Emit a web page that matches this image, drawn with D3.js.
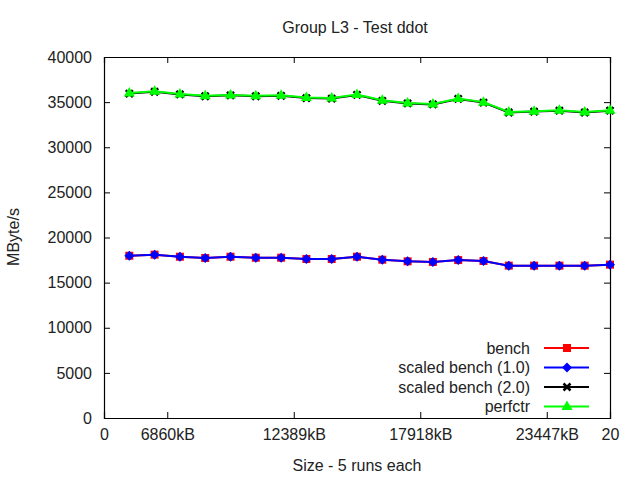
<!DOCTYPE html>
<html>
<head>
<meta charset="utf-8">
<script src="https://cdn.jsdelivr.net/npm/d3@7"></script>
<style>
   body { margin: 0; background: #fff; }
   text { font-family: "Liberation Sans", Arial, sans-serif; }
</style>
</head>
<body>
<svg id="chart"></svg>
<script>
   // x positions are run numbers 1..20
   const runs = d3.range(1, 21);
   const bench = [17980, 18100, 17870, 17730, 17870, 17760, 17760, 17620, 17620, 17870,
                  17540, 17360, 17290, 17500, 17400, 16880, 16880, 16880, 16880, 16990];
   const scaled1 = bench.slice(); // scaled bench (1.0) lies on bench
   const scaled2 = [35950, 36150, 35850, 35650, 35750, 35650, 35700, 35450, 35400, 35800,
                    35150, 34850, 34750, 35350, 34950, 33850, 33950, 34050, 33850, 34050];
   const perfctr = [36000, 36200, 35900, 35700, 35800, 35700, 35750, 35500, 35450, 35850,
                    35200, 34900, 34800, 35400, 35000, 33900, 34000, 34100, 33900, 34100];

   const xTickValues = [0, 2.5, 7.5, 12.5, 17.5, 20];
   const xTickLabels = ["0", "6860kB", "12389kB", "17918kB", "23447kB", "20"];
   const yTickValues = d3.range(0, 40001, 5000);

   const seriesNames = ["bench", "scaled bench (1.0)", "scaled bench (2.0)", "perfctr"];
   const seriesColors = ["#ff0000", "#0000ff", "#000000", "#00ff00"];
   const seriesShapes = ["square", "diamond", "cross", "triangle"];
   const seriesData = [bench, scaled1, scaled2, perfctr];

   const width = 640, height = 480;
   const margin = {left: 104, right: 30, top: 57, bottom: 62};
   const fontSize = 16;

   const svg = d3.select("#chart")
      .attr("width", width)
      .attr("height", height)

   const x = d3.scaleLinear().domain([0, 20]).range([margin.left, width - margin.right]);
   const y = d3.scaleLinear().domain([0, 40000]).range([height - margin.bottom, margin.top]);

   //axes, ticks point inward and are mirrored
   const tickLen = 6;
   const bottomAxis = svg.append("g")
      .attr("transform", `translate(0,${y(0)})`)
      .call(d3.axisBottom(x).tickValues(xTickValues)
         .tickFormat((d, i) => xTickLabels[i])
         .tickSize(-tickLen).tickPadding(11))
   const topAxis = svg.append("g")
      .attr("transform", `translate(0,${y(40000)})`)
      .call(d3.axisTop(x).tickValues(xTickValues).tickFormat("").tickSize(-tickLen))
   const leftAxis = svg.append("g")
      .attr("transform", `translate(${x(0)},0)`)
      .call(d3.axisLeft(y).tickValues(yTickValues).tickFormat(d3.format("d"))
         .tickSize(-tickLen).tickPadding(12))
   const rightAxis = svg.append("g")
      .attr("transform", `translate(${x(20)},0)`)
      .call(d3.axisRight(y).tickValues(yTickValues).tickFormat("").tickSize(-tickLen))

   svg.selectAll(".domain").attr("stroke", "#000").attr("stroke-width", 1.2)
   svg.selectAll(".tick line").attr("stroke", "#000")
   svg.selectAll(".tick text").attr("font-size", fontSize).attr("fill", "#222")
      .style("font-family", "'Liberation Sans', Arial, sans-serif")

   //titles
   svg.append("text")
      .attr("x", 355).attr("y", 33)
      .attr("text-anchor", "middle").attr("font-size", fontSize).attr("fill", "#222")
      .text("Group L3 - Test ddot")
   svg.append("text")
      .attr("x", 357).attr("y", 471)
      .attr("text-anchor", "middle").attr("font-size", fontSize).attr("fill", "#222")
      .text("Size - 5 runs each")
   svg.append("text")
      .attr("transform", "translate(19,237) rotate(-90)")
      .attr("text-anchor", "middle").attr("font-size", fontSize).attr("fill", "#222")
      .text("MByte/s")

   function drawMarker(g, shape, color, cx, cy){
      if(shape == "square"){
         g.append("rect").attr("x", cx - 4).attr("y", cy - 4)
            .attr("width", 8).attr("height", 8).attr("fill", color)
      }
      else if(shape == "diamond"){
         g.append("path").attr("d", `M${cx},${cy-5}L${cx+5},${cy}L${cx},${cy+5}L${cx-5},${cy}Z`)
            .attr("fill", color)
      }
      else if(shape == "cross"){
         g.append("path").attr("d", `M${cx-3.5},${cy-3.5}L${cx+3.5},${cy+3.5}M${cx-3.5},${cy+3.5}L${cx+3.5},${cy-3.5}`)
            .attr("stroke", color).attr("stroke-width", 2.5)
      }
      else if(shape == "triangle"){
         g.append("path").attr("d", `M${cx},${cy-6}L${cx+5.5},${cy+3.5}L${cx-5.5},${cy+3.5}Z`)
            .attr("fill", color)
      }
   }

   const line = d3.line()
      .x((d, i) => x(runs[i]))
      .y(d => y(d))

   const plot = svg.append("g")
   seriesData.forEach((data, s) => {
      const g = plot.append("g")
      g.append("path")
         .datum(data)
         .attr("d", line)
         .attr("fill", "none")
         .attr("stroke", seriesColors[s])
         .attr("stroke-width", 2)
      data.forEach((v, i) => drawMarker(g, seriesShapes[s], seriesColors[s], x(runs[i]), y(v)))
   })

   //legend
   const legend = svg.append("g")
   seriesNames.forEach((name, i) => {
      const ly = 348 + i * 19.5;
      legend.append("text")
         .attr("x", 530).attr("y", ly).attr("dy", "0.35em")
         .attr("text-anchor", "end").attr("font-size", fontSize).attr("fill", "#222")
         .text(name)
      legend.append("line")
         .attr("x1", 544).attr("x2", 589).attr("y1", ly).attr("y2", ly)
         .attr("stroke", seriesColors[i]).attr("stroke-width", 2)
      drawMarker(legend, seriesShapes[i], seriesColors[i], 567, ly)
   })
</script>
</body>
</html>
